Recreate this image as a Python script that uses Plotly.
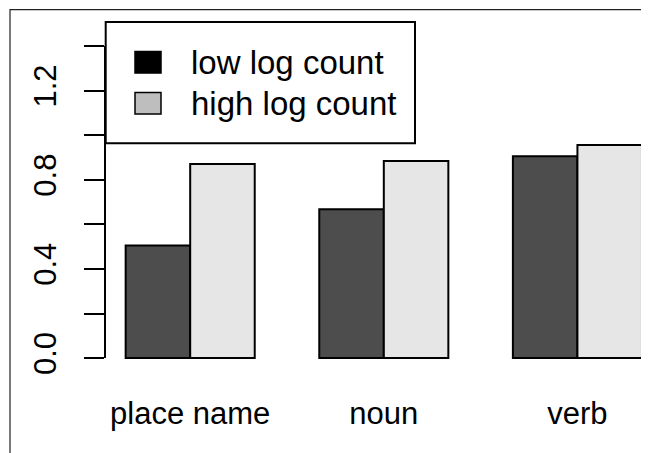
import plotly.graph_objects as go

categories = ["place name", "noun", "verb"]
low_log_count = [0.505, 0.668, 0.906]
high_log_count = [0.871, 0.884, 0.956]
series_names = ["low log count", "high log count"]
y_tick_vals = [0.0, 0.2, 0.4, 0.6, 0.8, 1.0, 1.2, 1.4]
y_tick_text = ["0.0", "", "0.4", "", "0.8", "", "1.2", ""]

# the page body has an 8px margin, so the figure is drawn 8px in from the window corner
OFF = 8
W, H = 649 - OFF, 453 - OFF
L, T = 105 - OFF, 22.3 - OFF
B = H - (370.6 - OFF)
R = 0
pw, ph = W - L - R, H - T - B

def px(x):
    return (x - OFF - L) / pw

def py(y):
    return (H - B - (y - OFF)) / ph

FONT = dict(family="Liberation Sans, Arial, Helvetica, sans-serif", size=31, color="black")

fig = go.Figure()
fig.add_trace(go.Bar(x=categories, y=low_log_count, name=series_names[0],
                     marker=dict(color="#4D4D4D", line=dict(color="black", width=2)),
                     showlegend=False))
fig.add_trace(go.Bar(x=categories, y=high_log_count, name=series_names[1],
                     marker=dict(color="#E6E6E6", line=dict(color="black", width=2)),
                     showlegend=False))

shapes = []
shapes.append(dict(type="line", xref="paper", yref="y", x0=0, x1=0, y0=0, y1=1.4,
                   line=dict(color="black", width=2)))
shapes.append(dict(type="rect", xref="paper", yref="paper", x0=px(10), x1=px(700),
                   y0=py(520), y1=py(10), line=dict(color="#222", width=1.2)))
shapes.append(dict(type="rect", xref="paper", yref="paper", x0=px(105.7), x1=px(415),
                   y0=py(143.3), y1=py(22.3), line=dict(color="black", width=2),
                   fillcolor="white", layer="above"))
legend_fills = ["black", "#BEBEBE"]
rows = [(51.7, 73.3), (92.7, 114)]
annotations = []
for name, fill, (y0, y1) in zip(series_names, legend_fills, rows):
    shapes.append(dict(type="rect", xref="paper", yref="paper", x0=px(135), x1=px(161),
                       y0=py(y1), y1=py(y0), line=dict(color="black", width=1.5),
                       fillcolor=fill, layer="above"))
    annotations.append(dict(xref="paper", yref="paper", x=px(189), y=py((y0 + y1) / 2),
                            text=name, showarrow=False, xanchor="left", yanchor="middle",
                            font=dict(FONT, size=33)))

fig.update_layout(
    width=W, height=H,
    margin=dict(l=L, r=R, t=T, b=B, pad=0),
    paper_bgcolor="white", plot_bgcolor="white",
    barmode="group", bargap=1/3, bargroupgap=0,
    shapes=shapes, annotations=annotations,
    font=FONT,
)
fig.update_xaxes(type="category", range=[(0.68 - 2) / 3, (9.109 - 2) / 3],
                 showline=False, showgrid=False, zeroline=False, ticks="",
                 tickfont=FONT, ticklabelstandoff=21)
fig.update_yaxes(range=[-0.058, 1.508], tickvals=y_tick_vals, ticktext=y_tick_text,
                 showline=False, showgrid=False, zeroline=False,
                 ticks="outside", ticklen=20, tickwidth=2, tickcolor="black",
                 tickangle=-90, tickfont=FONT, ticklabelstandoff=16)

fig.write_html("out.html")
